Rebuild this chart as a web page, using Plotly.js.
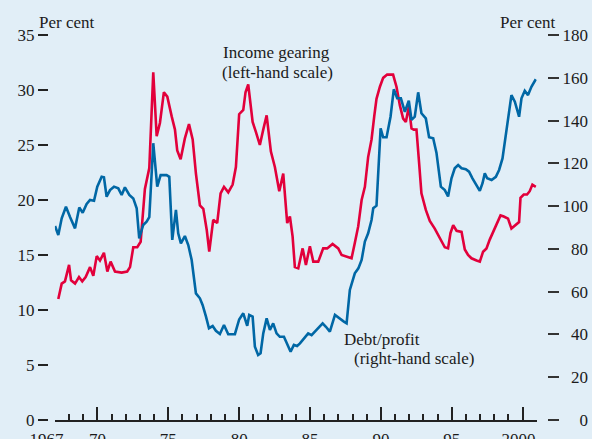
<!DOCTYPE html>
<html>
<head>
<meta charset="utf-8">
<script src="https://cdn.plot.ly/plotly-3.0.1.min.js"></script>
<style>html,body{margin:0;padding:0;background:#e1eef7;}#chart{width:592px;height:439px;}</style>
</head>
<body>
<div id="chart"></div>
<script>
// Income gearing (left-hand scale, per cent)
const gearingYears = [1967.24,1967.48,1967.71,1968.0,1968.14,1968.42,1968.7,1968.93,1969.17,1969.48,1969.71,1969.95,1970.18,1970.46,1970.7,1970.93,1971.24,1971.71,1972.1,1972.3,1972.53,1972.81,1973.05,1973.35,1973.66,1973.94,1974.18,1974.41,1974.69,1974.93,1975.24,1975.47,1975.63,1975.87,1976.17,1976.46,1976.72,1976.95,1977.23,1977.47,1977.71,1977.89,1978.17,1978.45,1978.69,1978.93,1979.23,1979.54,1979.77,1980.0,1980.29,1980.45,1980.64,1980.95,1981.18,1981.46,1981.7,1981.94,1982.24,1982.52,1982.83,1983.11,1983.39,1983.58,1983.77,1983.93,1984.17,1984.48,1984.71,1984.99,1985.23,1985.58,1985.93,1986.21,1986.59,1986.99,1987.23,1987.53,1987.93,1988.16,1988.4,1988.64,1988.87,1989.1,1989.34,1989.53,1989.69,1989.93,1990.16,1990.44,1990.86,1991.1,1991.34,1991.57,1991.76,1991.97,1992.16,1992.32,1992.51,1992.7,1992.86,1993.17,1993.45,1993.8,1994.16,1994.51,1994.74,1994.91,1995.1,1995.34,1995.69,1995.92,1996.15,1996.39,1996.75,1996.98,1997.21,1997.45,1997.68,1997.92,1998.16,1998.44,1998.67,1998.97,1999.21,1999.45,1999.75,1999.85,2000.08,2000.31,2000.5,2000.69,2000.93];
const gearingValues = [11.0,12.4,12.6,14.1,12.7,12.4,13.0,12.6,13.0,13.9,13.1,14.9,14.5,15.2,13.5,14.4,13.5,13.4,13.5,13.9,15.7,15.7,16.2,21.0,22.9,31.6,25.8,27.0,29.8,29.4,27.6,26.4,24.5,23.7,25.6,26.9,25.5,22.4,19.5,19.2,17.3,15.3,18.2,17.9,20.6,21.2,20.7,21.4,23.0,27.8,28.2,29.8,30.5,27.1,26.2,25.0,26.4,27.7,24.4,23.0,20.8,22.4,17.9,18.5,16.7,13.9,13.8,15.6,14.1,15.8,14.4,14.4,15.6,15.6,16.0,15.6,15.0,14.9,14.7,16.1,17.6,20.0,21.2,23.9,25.5,27.6,29.2,30.3,31.1,31.4,31.4,30.3,28.6,27.4,27.1,28.5,26.5,26.4,26.4,23.3,20.6,19.1,18.1,17.4,16.5,15.7,15.6,17.0,17.7,17.2,17.1,15.5,15.0,14.7,14.5,14.4,15.3,15.6,16.4,17.1,17.7,18.6,18.5,18.3,17.4,17.7,18.0,20.2,20.5,20.5,20.8,21.4,21.2];

// Debt/profit (right-hand scale, per cent)
const debtYears = [1967.01,1967.24,1967.48,1967.78,1968.06,1968.42,1968.72,1968.96,1969.24,1969.48,1969.76,1969.99,1970.3,1970.46,1970.65,1970.89,1971.17,1971.47,1971.71,1971.94,1972.25,1972.53,1972.77,1972.95,1973.23,1973.47,1973.66,1973.94,1974.22,1974.46,1974.88,1975.07,1975.28,1975.54,1975.7,1975.89,1976.17,1976.41,1976.65,1976.81,1976.95,1977.23,1977.42,1977.66,1977.87,1978.13,1978.36,1978.64,1978.93,1979.23,1979.7,1980.0,1980.29,1980.57,1980.71,1980.95,1981.11,1981.34,1981.51,1981.7,1981.94,1982.17,1982.4,1982.64,1982.87,1983.16,1983.39,1983.63,1983.86,1984.09,1984.29,1984.64,1984.87,1985.11,1985.34,1985.58,1985.89,1986.12,1986.4,1986.76,1987.06,1987.39,1987.58,1987.69,1987.81,1988.16,1988.41,1988.64,1988.87,1989.1,1989.34,1989.46,1989.69,1989.98,1990.16,1990.4,1990.68,1990.91,1991.15,1991.41,1991.69,1991.97,1992.16,1992.39,1992.63,1992.86,1993.17,1993.4,1993.69,1993.92,1994.23,1994.51,1994.74,1994.98,1995.21,1995.45,1995.69,1995.99,1996.22,1996.46,1996.75,1996.98,1997.17,1997.33,1997.5,1997.81,1998.11,1998.34,1998.58,1998.74,1998.98,1999.21,1999.45,1999.75,1999.92,2000.15,2000.38,2000.62,2000.93];
const debtValues = [90.7,86.5,94.3,99.7,95.0,89.6,99.4,96.9,101.0,102.9,102.5,109.1,113.7,113.5,104.4,107.5,109.1,108.3,105.2,108.8,105.2,103.6,99.0,84.9,91.2,92.7,94.8,129.4,109.1,114.5,114.5,113.7,84.2,98.2,87.3,82.6,86.0,81.8,74.8,67.0,59.2,56.9,53.8,48.3,42.9,43.9,41.7,40.2,44.4,40.1,40.1,47.0,49.9,44.0,49.1,48.3,34.3,30.4,31.2,40.5,47.5,42.1,45.2,40.5,38.9,38.9,35.8,31.9,35.1,34.6,35.8,38.9,40.5,39.7,41.3,42.9,45.2,43.6,41.3,49.1,47.5,46.0,45.2,54.6,60.8,68.6,70.9,74.8,83.4,87.3,93.5,99.0,100.2,136.4,132.2,132.2,141.8,154.6,150.4,150.4,144.1,149.3,140.3,141.8,153.2,143.4,141.0,132.2,131.7,125.0,109.1,107.5,104.5,113.0,117.7,119.2,117.7,117.3,116.1,113.0,109.9,107.1,110.7,115.3,113.0,112.2,113.7,116.9,122.3,129.4,141.8,151.9,148.8,141.8,150.4,153.9,151.9,155.8,159.3];

// Axis ticks
const yearTickVals = [1967,1968,1969,1970,1971,1972,1973,1974,1975,1976,1977,1978,1979,1980,1981,1982,1983,1984,1985,1986,1987,1988,1989,1990,1991,1992,1993,1994,1995,1996,1997,1998,1999,2000,2001];
const yearTickText = ['1967\u2007\u2007','','','70','','','','','75','','','','','80','','','','','85','','','','','90','','','','','95','','','','','2000\u2007',''];
const majorTickVals = [1970,1975,1980,1985,1990,1995,2000];
const leftTickVals = [0,5,10,15,20,25,30,35];
const rightTickVals = [0,20,40,60,80,100,120,140,160,180];

const W = 592, H = 439, M = {l:48, r:45, t:35, b:19};
const PW = W - M.l - M.r, PH = H - M.t - M.b;
const px = v => (v - M.l) / PW;
const py = v => (H - M.b - v) / PH;
const FONT = 'Liberation Serif, Times New Roman, serif';
const TXT = '#1b1b1b';
const FS = 17;
const fsp = '\u2007';
const rightTickText = rightTickVals.map(v => fsp.repeat(3 - String(v).length) + v);

const traces = [
  {x: gearingYears, y: gearingValues, type: 'scatter', mode: 'lines', name: 'Income gearing',
   line: {color: '#e2003b', width: 2.6}, xaxis: 'x', yaxis: 'y'},
  {x: debtYears, y: debtValues, type: 'scatter', mode: 'lines', name: 'Debt/profit',
   line: {color: '#0067a5', width: 2.6}, xaxis: 'x2', yaxis: 'y2'}
];

function ann(text, x, y, xa, ya) {
  return {text: text, xref: 'paper', yref: 'paper', x: px(x), y: py(y), xanchor: xa, yanchor: ya,
          showarrow: false, font: {family: FONT, size: FS, color: TXT}};
}

const layout = {
  width: W, height: H, margin: M,
  paper_bgcolor: '#e1eef7', plot_bgcolor: '#e1eef7',
  showlegend: false,
  font: {family: FONT, size: FS, color: TXT},
  xaxis: {range: [1967, 2001], domain: [px(54.9), px(536.8)],
          showline: true, linecolor: '#222', linewidth: 1.6,
          tickmode: 'array', tickvals: yearTickVals, ticktext: yearTickText,
          ticks: 'inside', ticklen: 6, tickwidth: 2, tickcolor: '#222',
          ticklabelstandoff: 3,
          showgrid: false, zeroline: false, tickfont: {family: FONT, size: FS, color: TXT}},
  xaxis2: {range: [1967, 2001], overlaying: 'x', anchor: 'y', side: 'bottom',
          tickmode: 'array', tickvals: majorTickVals, showticklabels: false,
          ticks: 'inside', ticklen: 13, tickwidth: 2, tickcolor: '#222',
          showline: false, showgrid: false, zeroline: false},
  yaxis: {range: [0, 35], anchor: 'free', position: 0, tickmode: 'array', tickvals: leftTickVals,
          ticks: 'outside', ticklen: 10, tickwidth: 2, tickcolor: '#222',
          showline: false, showgrid: false, zeroline: false,
          tickfont: {family: FONT, size: FS, color: TXT}},
  yaxis2: {range: [0, 180], overlaying: 'y', side: 'right', anchor: 'free', position: 1,
          tickmode: 'array', tickvals: rightTickVals, ticktext: rightTickText,
          ticks: 'outside', ticklen: 11, tickwidth: 2, tickcolor: '#333',
          showline: false, showgrid: false, zeroline: false,
          tickfont: {family: FONT, size: FS, color: TXT}},
  annotations: [
    ann('Per cent', 37, 23, 'left', 'middle'),
    ann('Per cent', 558, 23, 'right', 'middle'),
    ann('Income gearing', 276, 52, 'center', 'middle'),
    ann('(left-hand scale)', 277, 72, 'center', 'middle'),
    ann('Debt/profit', 342, 339, 'left', 'middle'),
    ann('(right-hand scale)', 352, 358, 'left', 'middle')
  ]
};

Plotly.newPlot('chart', traces, layout, {staticPlot: true, displayModeBar: false});
</script>
</body>
</html>
